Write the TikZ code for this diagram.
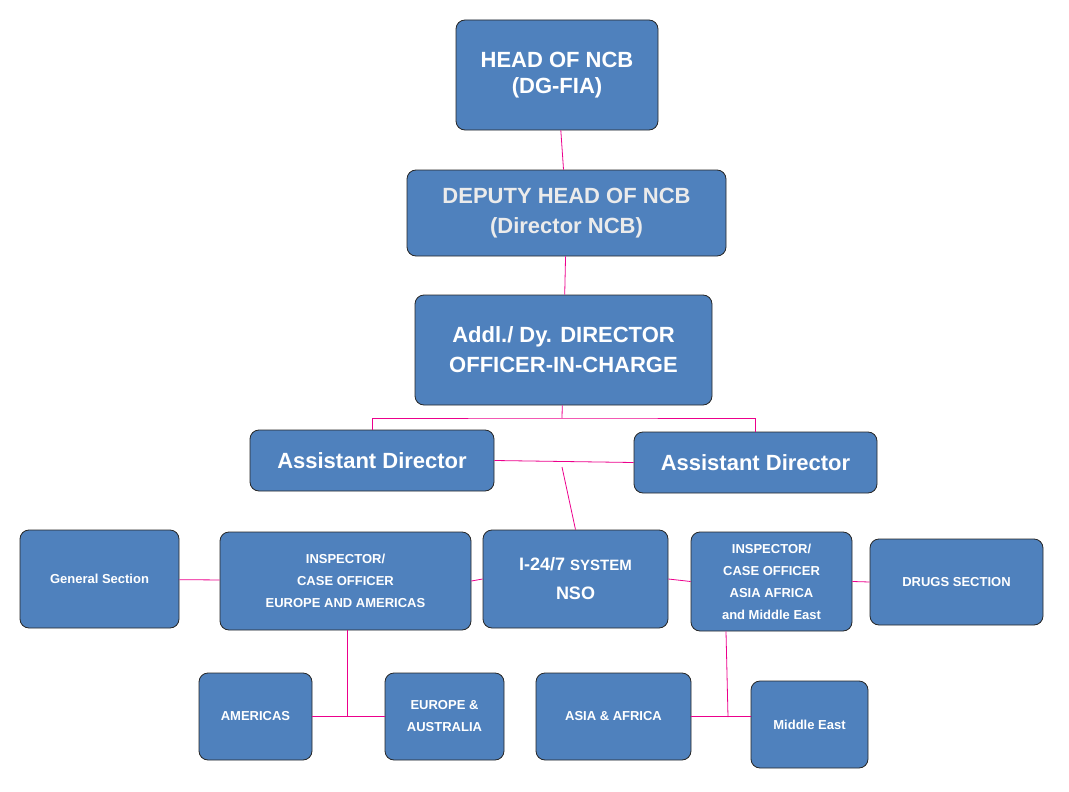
\documentclass[tikz,border=0pt]{standalone}
\usepackage{fontspec}
\setmainfont{Liberation Sans}
\begin{document}
\begin{tikzpicture}[x=1pt,y=-1pt,
 box/.style={draw=black!85,line width=0.8pt,fill=boxblue,rounded corners=9pt,text=white,font=\bfseries,align=center,inner sep=0pt},
 lnk/.style={draw=magenta,line width=0.8pt}]
\definecolor{boxblue}{HTML}{4F81BD}
\useasboundingbox (0,0) rectangle (1069,792);
\newcommand{\bx}[6]{\node[box,minimum width=#4-#2,minimum height=#5-#3,#6] (#1) at ({(#2+#4)/2},{(#3+#5)/2})}
\bx{head}{456}{20}{658}{130}{font=\fontsize{22}{26}\selectfont\bfseries}{HEAD OF NCB\\(DG-FIA)};
\bx{dep}{407}{170}{726}{256}{font=\fontsize{22}{30}\selectfont\bfseries,text=black!8}{DEPUTY HEAD OF NCB\\(Director NCB)};
\bx{addl}{415}{295}{712}{405}{font=\fontsize{22}{30}\selectfont\bfseries}{Addl./ Dy. DIRECTOR\\OFFICER-IN-CHARGE};
\bx{adl}{250}{430}{494}{491}{font=\fontsize{22}{26}\selectfont\bfseries}{Assistant Director};
\bx{adr}{634}{432}{877}{493}{font=\fontsize{22}{26}\selectfont\bfseries}{Assistant Director};
\bx{gen}{20}{530}{179}{628}{font=\fontsize{13}{16}\selectfont\bfseries}{General Section};
\bx{ieu}{220}{532}{471}{630}{font=\fontsize{13}{22}\selectfont\bfseries}{INSPECTOR/\\CASE OFFICER\\EUROPE AND AMERICAS};
\bx{sys}{483}{530}{668}{628}{font=\fontsize{18}{29}\selectfont\bfseries}{I-24/7 {\fontsize{15}{29}\selectfont SYSTEM}\\NSO};
\bx{ias}{691}{532}{852}{631}{font=\fontsize{13}{22}\selectfont\bfseries}{INSPECTOR/\\CASE OFFICER\\ASIA AFRICA\\and Middle East};
\bx{drg}{870}{539}{1043}{625}{font=\fontsize{13}{16}\selectfont\bfseries}{DRUGS SECTION};
\bx{ame}{199}{673}{312}{760}{font=\fontsize{13}{16}\selectfont\bfseries}{AMERICAS};
\bx{eur}{385}{673}{504}{760}{font=\fontsize{13}{22}\selectfont\bfseries}{EUROPE \&\\AUSTRALIA};
\bx{asa}{536}{673}{691}{760}{font=\fontsize{13}{16}\selectfont\bfseries}{ASIA \& AFRICA};
\bx{mde}{751}{681}{868}{768}{font=\fontsize{13}{16}\selectfont\bfseries}{Middle East};
\coordinate (j1) at (562,418);
\coordinate (j2) at (562,467);
\coordinate (j3) at (347,717);
\coordinate (j4) at (728,717);
\draw[lnk] (head) -- (dep);
\draw[lnk] (dep) -- (addl);
\draw[lnk] (addl) -- (j1);
\draw[lnk] (adl.north) |- (j1) -| (adr.north);
\draw[lnk] (adl.east) -- (adr.west);
\draw[lnk] (j2) -- (sys.north);
\draw[lnk] (gen) -- (ieu);
\draw[lnk] (ieu.east) -- (sys.west);
\draw[lnk] (sys.east) -- (ias.west);
\draw[lnk] (ias.east) -- (drg.west);
\draw[lnk] (ieu.south -| j3) -- (j3);
\draw[lnk] (ame.east) -- (eur.west);
\draw[lnk] (ias.south -| 726,0) -- (j4);
\draw[lnk] (asa.east) -- (mde.west |- asa.east);
\end{tikzpicture}
\end{document}
